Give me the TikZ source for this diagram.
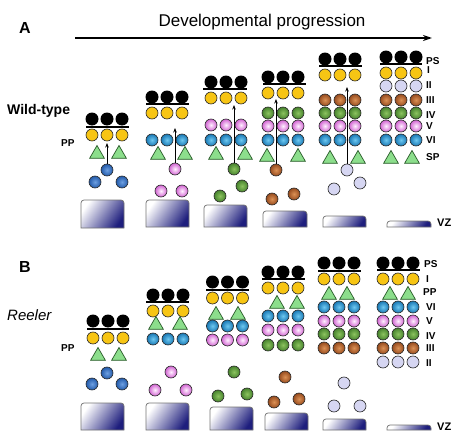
\documentclass[tikz,border=0pt]{standalone}
\usepackage{fontspec}
\setmainfont{Liberation Sans}
\usetikzlibrary{arrows.meta,shapes.geometric}
\definecolor{yelC}{RGB}{247,197,20}
\definecolor{bluIn}{RGB}{110,200,240}
\definecolor{bluOut}{RGB}{25,120,180}
\definecolor{dbIn}{RGB}{110,160,225}
\definecolor{dbOut}{RGB}{35,90,170}
\definecolor{pnkIn}{RGB}{255,240,255}
\definecolor{pnkOut}{RGB}{210,100,210}
\definecolor{grnIn}{RGB}{140,195,95}
\definecolor{grnOut}{RGB}{70,130,45}
\definecolor{brnIn}{RGB}{220,145,85}
\definecolor{brnOut}{RGB}{150,75,30}
\definecolor{lilC}{RGB}{214,214,242}
\definecolor{triC}{RGB}{140,222,140}
\definecolor{triD}{RGB}{40,90,40}
\definecolor{vzC}{RGB}{30,30,125}
\tikzset{
  cellbase/.style={circle,inner sep=0pt,minimum size=12pt,draw=black!85,line width=0.6pt},
  cblk/.style={circle,inner sep=0pt,minimum size=13pt,fill=black},
  cyel/.style={cellbase,fill=yelC},
  cblu/.style={cellbase,inner color=bluIn,outer color=bluOut},
  cdbl/.style={cellbase,inner color=dbIn,outer color=dbOut},
  cpnk/.style={cellbase,inner color=pnkIn,outer color=pnkOut},
  cgrn/.style={cellbase,inner color=grnIn,outer color=grnOut},
  cbrn/.style={cellbase,inner color=brnIn,outer color=brnOut},
  clil/.style={cellbase,fill=lilC},
  tri/.style={regular polygon,regular polygon sides=3,inner sep=0pt,minimum size=17pt,fill=triC,draw=triD,line width=0.7pt},
  layer/.style={line width=1.6pt},
  migr/.style={line width=0.9pt,-{Stealth[length=4.5pt,width=3.5pt]}},
  vzbox/.style={draw=black!55,line width=0.7pt,top color=white,bottom color=vzC,shading angle=55},
  lab/.style={font=\bfseries\fontsize{10}{10}\selectfont,anchor=west,inner sep=0pt},
  ttl/.style={font=\bfseries\fontsize{16}{16}\selectfont,inner sep=0pt},
}
\newcommand{\trio}[4]{%
  \node[#2] (#1a) at ({#3-15},#4) {};
  \node[#2] (#1b) at (#3,#4) {};
  \node[#2] (#1c) at ({#3+15},#4) {};}
\newcommand{\vzb}[4]{%
  \draw[vzbox] (#1,#4) -- (#1,{#2+3}) arc[start angle=180,end angle=270,radius=3]
    -- ({#3-3},#2) arc[start angle=270,end angle=360,radius=3] -- (#3,#4) -- cycle;}
\begin{document}
\begin{tikzpicture}[x=1pt,y=-1pt]
\useasboundingbox (0,0) rectangle (464,447);
% ---------- Panel A ----------
\node[ttl] (lA) at (25,28) {A};
\node[font=\fontsize{17}{17}\selectfont,inner sep=0pt] (dev) at (262,22) {Developmental progression};
\coordinate (devS) at (75,38);
\coordinate (devE) at (432,38);
\draw[line width=1.4pt,-{Stealth[length=9pt,width=6pt]}] (devS) -- (devE);
\node[font=\bfseries\fontsize{14}{14}\selectfont,anchor=west,inner sep=0pt] (wt) at (7,111) {Wild-type};
\node[lab] (ppA) at (61,143) {PP};
% A1
\trio{A1k}{cblk}{107}{119}
\draw[layer] (86,127) -- (129,127);
\trio{A1y}{cyel}{107}{135}
\node[tri] (A1t1) at (97,154) {};
\node[tri] (A1t2) at (119,154) {};
\node[cdbl] (A1m) at (107,170) {};
\node[cdbl] (A1n1) at (95,182) {};
\node[cdbl] (A1n2) at (122,182) {};
\coordinate (A1tip) at (107,143);
\draw[migr] (A1m) -- (A1tip);
\vzb{81}{200}{124}{228}
% A2
\trio{A2k}{cblk}{167}{97}
\draw[layer] (146,104) -- (189,104);
\trio{A2y}{cyel}{167}{113}
\trio{A2b}{cblu}{167}{140}
\node[tri] (A2t1) at (158,155) {};
\node[tri] (A2t2) at (185,155) {};
\node[cpnk] (A2m) at (175,169) {};
\node[cpnk] (A2n1) at (161,191) {};
\node[cpnk] (A2n2) at (182,191) {};
\coordinate (A2tip) at (175,128);
\draw[migr] (A2m) -- (A2tip);
\vzb{146}{200}{189}{227}
% A3
\trio{A3k}{cblk}{226}{82}
\draw[layer] (203,89) -- (247,89);
\trio{A3y}{cyel}{226}{98}
\trio{A3p}{cpnk}{226}{125}
\trio{A3b}{cblu}{226}{140}
\node[tri] (A3t1) at (216,155) {};
\node[tri] (A3t2) at (245,155) {};
\node[cgrn] (A3m) at (234,169) {};
\node[cgrn] (A3n1) at (242,186) {};
\node[cgrn] (A3n2) at (220,196) {};
\coordinate (A3tip) at (234,105);
\draw[migr] (A3m) -- (A3tip);
\vzb{204}{205}{247}{227}
% A4
\trio{A4k}{cblk}{283}{77}
\draw[layer] (263,84) -- (306,84);
\trio{A4y}{cyel}{283}{93}
\trio{A4g}{cgrn}{283}{113}
\trio{A4p}{cpnk}{283}{126}
\trio{A4b}{cblu}{283}{140}
\node[tri] (A4t1) at (267,157) {};
\node[tri] (A4t2) at (298,157) {};
\node[cbrn] (A4m) at (276,170) {};
\node[cbrn] (A4n1) at (272,199) {};
\node[cbrn] (A4n2) at (294,194) {};
\coordinate (A4tip) at (276,99);
\draw[migr] (A4m) -- (A4tip);
\vzb{263}{211}{307}{227}
% A5
\trio{A5k}{cblk}{340}{59}
\draw[layer] (319,66) -- (362,66);
\trio{A5y}{cyel}{340}{75}
\trio{A5r}{cbrn}{340}{100}
\trio{A5g}{cgrn}{340}{113}
\trio{A5p}{cpnk}{340}{126}
\trio{A5b}{cblu}{340}{140}
\node[tri] (A5t1) at (330,159) {};
\node[tri] (A5t2) at (358,159) {};
\node[clil] (A5m) at (347,170) {};
\node[clil] (A5n1) at (334,189) {};
\node[clil] (A5n2) at (360,183) {};
\coordinate (A5tip) at (347,87);
\draw[migr] (A5m) -- (A5tip);
\vzb{323}{216}{366}{227}
% A6
\trio{A6k}{cblk}{401}{57}
\draw[layer] (380,64) -- (422,64);
\trio{A6y}{cyel}{401}{73}
\trio{A6l}{clil}{401}{86}
\trio{A6r}{cbrn}{401}{100}
\trio{A6g}{cgrn}{401}{113}
\trio{A6p}{cpnk}{401}{126}
\trio{A6b}{cblu}{401}{140}
\node[tri] (A6t1) at (391,159) {};
\node[tri] (A6t2) at (412,159) {};
\vzb{387}{221}{431}{227}
\node[lab] (A-PS) at (426,61) {PS};
\node[lab] (A-I) at (427,70) {I};
\node[lab] (A-II) at (426,85) {II};
\node[lab] (A-III) at (426,100) {III};
\node[lab] (A-IV) at (426,115) {IV};
\node[lab] (A-V) at (426,126) {V};
\node[lab] (A-VI) at (426,140) {VI};
\node[lab] (A-SP) at (426,157) {SP};
\node[lab,font=\bfseries\fontsize{11}{11}\selectfont] (A-VZ) at (437,223) {VZ};
% ---------- Panel B ----------
\node[ttl] (lB) at (25,267) {B};
\node[font=\itshape\fontsize{15}{15}\selectfont,anchor=west,inner sep=0pt] (rl) at (7,315) {Reeler};
\node[lab] (ppB) at (61,348) {PP};
% B1
\trio{B1k}{cblk}{108}{321}
\draw[layer] (87,329) -- (129,329);
\trio{B1y}{cyel}{108}{338}
\node[tri] (B1t1) at (98,356) {};
\node[tri] (B1t2) at (119,356) {};
\node[cdbl] (B1m) at (107,373) {};
\node[cdbl] (B1n1) at (92,384) {};
\node[cdbl] (B1n2) at (122,384) {};
\vzb{81}{403}{124}{430}
% B2
\trio{B2k}{cblk}{168}{295}
\draw[layer] (146,302) -- (189,302);
\trio{B2y}{cyel}{168}{311}
\node[tri] (B2t1) at (156,325) {};
\node[tri] (B2t2) at (180,325) {};
\trio{B2b}{cblu}{168}{339}
\node[cpnk] (B2m) at (171,372) {};
\node[cpnk] (B2n1) at (155,390) {};
\node[cpnk] (B2n2) at (186,390) {};
\vzb{146}{403}{189}{430}
% B3
\trio{B3k}{cblk}{227.5}{282}
\draw[layer] (206,290) -- (249,290);
\trio{B3y}{cyel}{227.5}{298}
\node[tri] (B3t1) at (216,315) {};
\node[tri] (B3t2) at (238,315) {};
\trio{B3b}{cblu}{227.5}{326}
\trio{B3p}{cpnk}{227.5}{340}
\node[cgrn] (B3m) at (234,372) {};
\node[cgrn] (B3n1) at (218,396) {};
\node[cgrn] (B3n2) at (247,394) {};
\vzb{210}{407}{253}{430}
% B4
\trio{B4k}{cblk}{283}{272}
\draw[layer] (262,279) -- (305,279);
\trio{B4y}{cyel}{283}{288}
\node[tri] (B4t1) at (277,304) {};
\node[tri] (B4t2) at (297,304) {};
\trio{B4b}{cblu}{283}{316}
\trio{B4p}{cpnk}{283}{330}
\trio{B4g}{cgrn}{283}{345}
\node[cbrn] (B4m) at (285,377) {};
\node[cbrn] (B4n1) at (274,402) {};
\node[cbrn] (B4n2) at (299,399) {};
\vzb{265}{413}{308}{430}
% B5
\trio{B5k}{cblk}{339}{263}
\draw[layer] (318,271) -- (361,271);
\trio{B5y}{cyel}{339}{279}
\node[tri] (B5t1) at (329,295) {};
\node[tri] (B5t2) at (347,295) {};
\trio{B5b}{cblu}{339}{307}
\trio{B5p}{cpnk}{339}{321}
\trio{B5g}{cgrn}{339}{334}
\trio{B5r}{cbrn}{339}{348}
\node[clil] (B5m) at (344,383) {};
\node[clil] (B5n1) at (334,406) {};
\node[clil] (B5n2) at (360,406) {};
\vzb{323}{419}{366}{430}
% B6
\trio{B6k}{cblk}{398}{263}
\draw[layer] (377,270) -- (420,270);
\trio{B6y}{cyel}{398}{279}
\node[tri] (B6t1) at (390,295) {};
\node[tri] (B6t2) at (408,295) {};
\trio{B6b}{cblu}{398}{307}
\trio{B6p}{cpnk}{398}{321}
\trio{B6g}{cgrn}{398}{334}
\trio{B6r}{cbrn}{398}{348}
\trio{B6l}{clil}{398}{362}
\vzb{387}{425}{431}{430}
\node[lab] (B-PS) at (424,264) {PS};
\node[lab] (B-I) at (426,279) {I};
\node[lab] (B-PP) at (423,292) {PP};
\node[lab] (B-VI) at (426,307) {VI};
\node[lab] (B-V) at (426,321) {V};
\node[lab] (B-IV) at (426,336) {IV};
\node[lab] (B-III) at (426,348) {III};
\node[lab] (B-II) at (426,363) {II};
\node[lab,font=\bfseries\fontsize{11}{11}\selectfont] (B-VZ) at (437,427) {VZ};
\end{tikzpicture}
\end{document}
